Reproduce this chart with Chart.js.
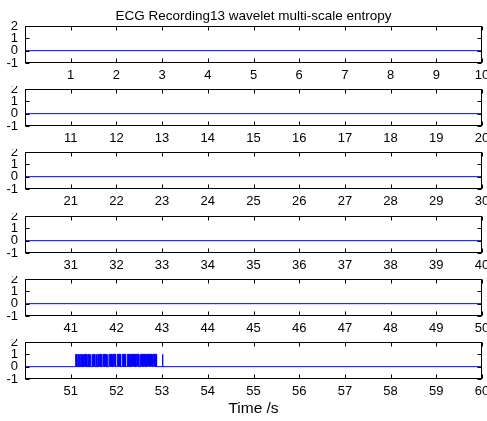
<!DOCTYPE html>
<html>
<head>
<meta charset="utf-8">
<script src="https://cdn.jsdelivr.net/npm/chart.js@4.4.1/dist/chart.umd.min.js"></script>
<style>
  body { margin: 0; background: #fff; }
  #wrap { position: relative; width: 487px; height: 421px; overflow: hidden; }
  #wrap canvas { position: absolute; left: 0; }
</style>
</head>
<body>
<div id="wrap"></div>
<script>
// time ranges of each row (seconds)
const rowRanges = [[0, 10], [10, 20], [20, 30], [30, 40], [40, 50], [50, 60]];
const yTicks = [-1, 0, 1, 2];
const baseline = 0;
// pulses (value 1) seen in the last row, [start, end] in seconds
const pulses = [
    [51.110, 51.118], [51.124, 51.135], [51.157, 51.164], [51.193, 51.200], [51.222, 51.230],
    [51.251, 51.259], [51.273, 51.281], [51.303, 51.320], [51.326, 51.346], [51.376, 51.383],
    [51.405, 51.412], [51.434, 51.441], [51.470, 51.478], [51.500, 51.529],
    [51.558, 51.565], [51.595, 51.602], [51.624, 51.645], [51.651, 51.668],
    [51.704, 51.735], [51.742, 51.777], [51.806, 51.814], [51.843, 51.870],
    [51.877, 51.908], [51.930, 51.981], [52.018, 52.050], [52.057, 52.091],
    [52.127, 52.160], [52.167, 52.200], [52.237, 52.270], [52.278, 52.310],
    [52.332, 52.375], [52.382, 52.420], [52.434, 52.492], [52.529, 52.580],
    [52.587, 52.638], [52.660, 52.720], [52.727, 52.784], [52.806, 52.845],
    [52.851, 52.879], [53.008, 53.016]
];
const pulseHigh = 1;
const titleText = 'ECG Recording13 wavelet multi-scale entropy';
const xLabel = 'Time /s';

const plotTops = [26, 89, 152, 216, 279, 342];
const plotH = 37;
const font = 'Liberation Sans, Arial, sans-serif';

const boxPlugin = {
    id: 'matlabBox',
    afterDraw(chart) {
        const ctx = chart.ctx;
        const a = chart.chartArea;
        const x = chart.scales.x, y = chart.scales.y;
        const L = Math.round(a.left) + 0.5, R = Math.round(a.right) - 0.5;
        const T = Math.round(a.top) + 0.5, B = Math.round(a.bottom) - 0.5;
        ctx.save();
        ctx.strokeStyle = '#000';
        ctx.lineWidth = 1;
        ctx.strokeRect(L, T, R - L, B - T);
        ctx.beginPath();
        for (let v = x.min; v <= x.max; v++) {
            const px = Math.round(x.getPixelForValue(v)) + 0.5;
            ctx.moveTo(px, T); ctx.lineTo(px, T + 4);
            ctx.moveTo(px, B); ctx.lineTo(px, B - 4);
        }
        yTicks.forEach(v => {
            const py = Math.round(y.getPixelForValue(v)) + 0.5;
            ctx.moveTo(L, py); ctx.lineTo(L + 4, py);
            ctx.moveTo(R, py); ctx.lineTo(R - 4, py);
        });
        ctx.stroke();
        ctx.restore();
    }
};

function rowData(i) {
    const [lo, hi] = rowRanges[i];
    const pts = [{ x: lo, y: baseline }];
    pulses.forEach(([s, e]) => {
        if (s >= lo && e <= hi) {
            pts.push({ x: s, y: baseline }, { x: s, y: pulseHigh }, { x: e, y: pulseHigh }, { x: e, y: baseline });
        }
    });
    pts.push({ x: hi, y: baseline });
    return pts;
}

const wrap = document.getElementById('wrap');

rowRanges.forEach((range, i) => {
    const first = i === 0;
    const last = i === rowRanges.length - 1;
    const padTop = first ? 0 : 3;
    const top = first ? 0 : plotTops[i] - padTop;
    const xAxisH = last ? 42 : 24;
    const height = last ? 421 - top : (first ? plotTops[0] : padTop) + plotH + xAxisH;

    const canvas = document.createElement('canvas');
    canvas.width = 487;
    canvas.height = height;
    canvas.style.top = top + 'px';
    wrap.appendChild(canvas);

    new Chart(canvas.getContext('2d'), {
        type: 'line',
        data: {
            datasets: [{
                data: rowData(i),
                borderColor: '#0000ff',
                backgroundColor: '#0000ff',
                borderWidth: 1,
                pointRadius: 0,
                tension: 0,
                fill: 'origin'
            }]
        },
        options: {
            responsive: false,
            animation: false,
            devicePixelRatio: 1,
            layout: { padding: { top: padTop, right: 5, left: 0, bottom: 0 } },
            plugins: {
                legend: { display: false },
                tooltip: { enabled: false },
                title: {
                    display: first,
                    fullSize: false,
                    text: titleText,
                    color: '#000',
                    font: { family: font, size: 13.5, weight: 'normal' },
                    padding: { top: 8, bottom: 1.8 }
                }
            },
            scales: {
                x: {
                    type: 'linear',
                    min: range[0],
                    max: range[1],
                    grid: { display: false, drawTicks: false },
                    border: { display: false },
                    ticks: {
                        stepSize: 1,
                        autoSkip: false,
                        maxRotation: 0,
                        padding: 5,
                        color: '#000',
                        font: { family: font, size: 13 },
                        callback: v => (v === range[0] ? '' : v)
                    },
                    title: {
                        display: last,
                        text: xLabel,
                        color: '#000',
                        font: { family: font, size: 15.5 },
                        padding: { top: 0, bottom: 3 }
                    },
                    afterFit(scale) {
                        scale.height = xAxisH;
                        scale.paddingLeft = 0;
                        scale.paddingRight = 0;
                    }
                },
                y: {
                    min: -1,
                    max: 2,
                    grid: { display: false, drawTicks: false },
                    border: { display: false },
                    afterBuildTicks(scale) {
                        scale.ticks = yTicks.map(v => ({ value: v }));
                    },
                    ticks: {
                        autoSkip: false,
                        padding: 7,
                        color: '#000',
                        font: { family: font, size: 13 }
                    },
                    afterFit(scale) {
                        scale.width = 25;
                        scale.paddingTop = 0;
                        scale.paddingBottom = 0;
                    }
                }
            }
        },
        plugins: [boxPlugin]
    });
});
</script>
</body>
</html>
